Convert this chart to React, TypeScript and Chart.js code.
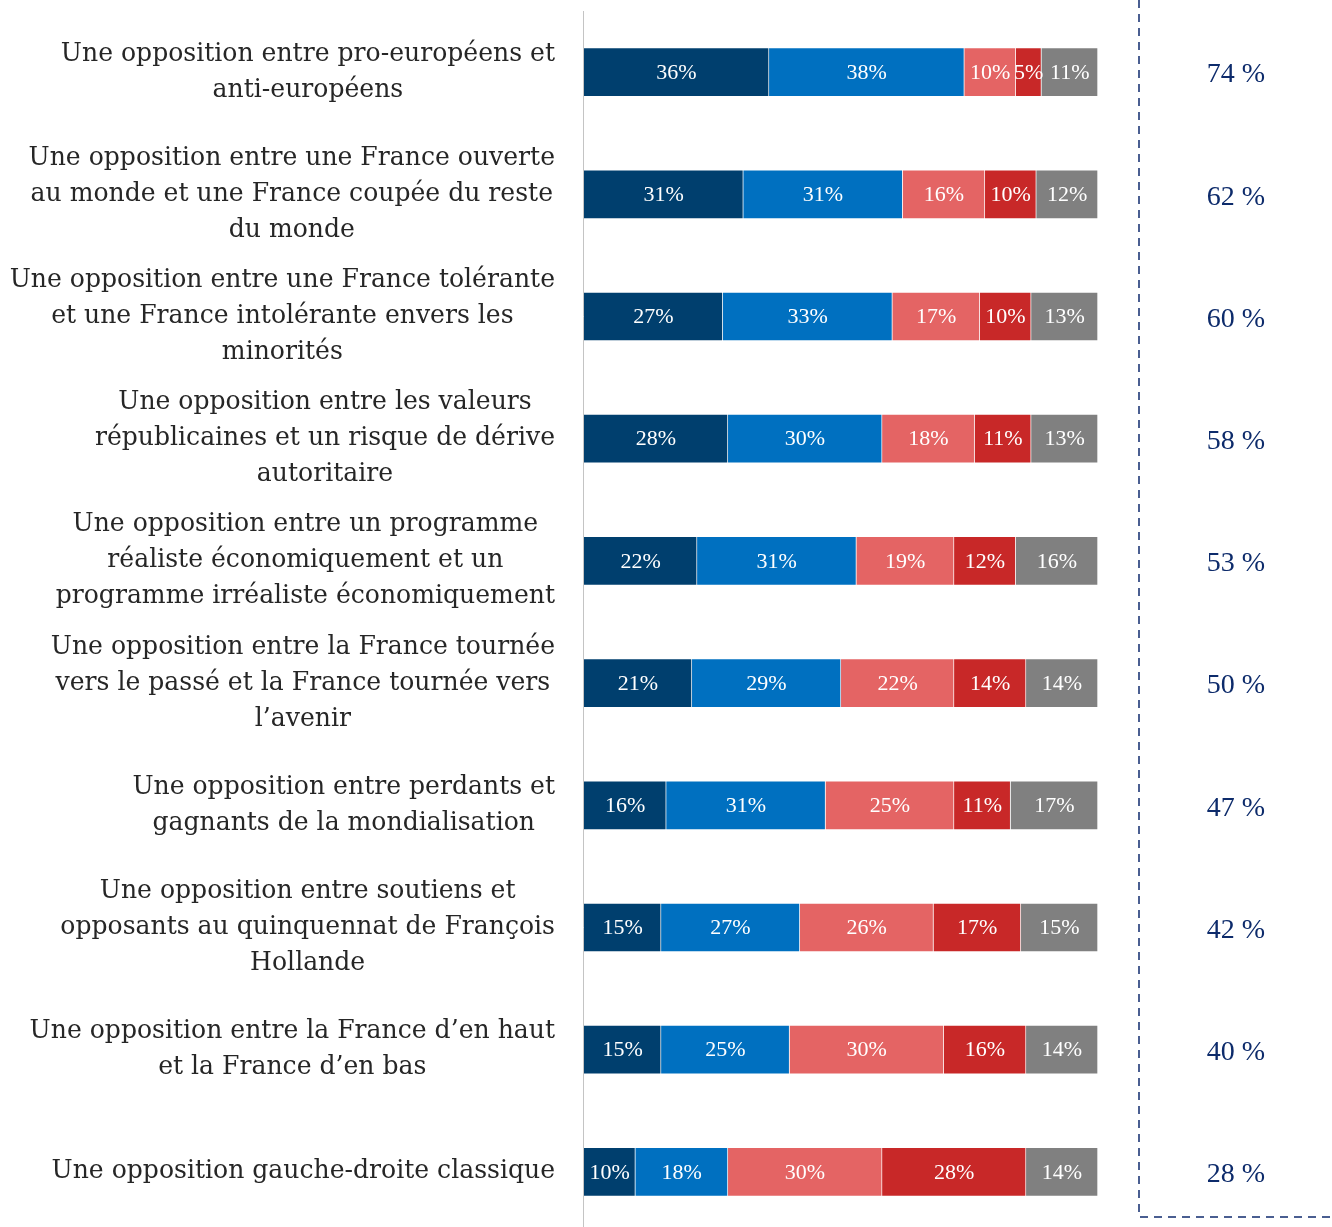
import React, { useEffect, useRef } from "react";
import { Chart, registerables } from "chart.js";

Chart.register(...registerables);

const categories: string[][] = [
  ["Une opposition entre pro-européens et", "anti-européens"],
  ["Une opposition entre une France ouverte", "au monde et une France coupée du reste", "du monde"],
  ["Une opposition entre une France tolérante", "et une France intolérante envers les", "minorités"],
  ["Une opposition entre les valeurs", "républicaines et un risque de dérive", "autoritaire"],
  ["Une opposition entre un programme", "réaliste économiquement et un", "programme irréaliste économiquement"],
  ["Une opposition entre la France tournée", "vers le passé et la France tournée vers", "l’avenir"],
  ["Une opposition entre perdants et", "gagnants de la mondialisation"],
  ["Une opposition entre soutiens et", "opposants au quinquennat de François", "Hollande"],
  ["Une opposition entre la France d’en haut", "et la France d’en bas"],
  ["Une opposition gauche-droite classique"],
];

const seriesNames = ["Tout à fait", "Plutôt", "Plutôt pas", "Pas du tout", "NSP"];
const series1 = [36, 31, 27, 28, 22, 21, 16, 15, 15, 10];
const series2 = [38, 31, 33, 30, 31, 29, 31, 27, 25, 18];
const series3 = [10, 16, 17, 18, 19, 22, 25, 26, 30, 30];
const series4 = [5, 10, 10, 11, 12, 14, 11, 17, 16, 28];
const series5 = [11, 12, 13, 13, 16, 14, 17, 15, 14, 14];
const totals = [74, 62, 60, 58, 53, 50, 47, 42, 40, 28];

const colors = ["#003F6E", "#0070C0", "#E46464", "#C82828", "#808080"];

const SERIF = "'Liberation Serif', 'DejaVu Serif', serif";
const LABEL_FONT = "'DejaVu Serif', serif";

const overlayPlugin = {
  id: "overlay",
  afterDatasetsDraw(chart: any) {
    const ctx = chart.ctx;
    const area = chart.chartArea;
    const yScale = chart.scales.y;
    ctx.save();
    // axis line
    ctx.strokeStyle = "#C4C4C4";
    ctx.lineWidth = 1;
    ctx.beginPath();
    ctx.moveTo(area.left - 0.5, area.top);
    ctx.lineTo(area.left - 0.5, chart.height);
    ctx.stroke();

    // segment labels
    ctx.font = `22px ${SERIF}`;
    ctx.fillStyle = "#FFFFFF";
    ctx.textAlign = "center";
    ctx.textBaseline = "middle";
    chart.data.datasets.forEach((ds: any, di: number) => {
      const meta = chart.getDatasetMeta(di);
      meta.data.forEach((el: any, i: number) => {
        const cx = (el.x + el.base) / 2;
        ctx.fillText(`${ds.data[i]}%`, cx, el.y + 1);
      });
    });

    // category labels (fit widest line to reference width)
    ctx.font = `100px ${LABEL_FONT}`;
    let widest = 0;
    categories.forEach((lines) => lines.forEach((l) => (widest = Math.max(widest, ctx.measureText(l).width))));
    const size = Math.round((100 * 545) / widest * 10) / 10;
    ctx.font = `${size}px ${LABEL_FONT}`;
    ctx.fillStyle = "#262626";
    const right = 555;
    const lh = 36;
    categories.forEach((lines, i) => {
      const y = yScale.getPixelForValue(i);
      const maxW = Math.max(...lines.map((l) => ctx.measureText(l).width));
      const cx = right - maxW / 2;
      const y0 = y - ((lines.length - 1) * lh) / 2;
      lines.forEach((l, k) => ctx.fillText(l, cx, y0 + k * lh));
    });

    // totals
    ctx.font = `28px ${SERIF}`;
    ctx.fillStyle = "#0D2B6B";
    totals.forEach((t, i) => {
      const y = yScale.getPixelForValue(i);
      ctx.fillText(`${t} %`, 1236, y + 3);
    });

    // dashed frame
    ctx.strokeStyle = "#4A5E91";
    ctx.lineWidth = 2;
    ctx.setLineDash([8, 6]);
    ctx.beginPath();
    ctx.moveTo(1139, 0);
    ctx.lineTo(1139, 1217);
    ctx.lineTo(1332, 1217);
    ctx.stroke();
    ctx.restore();
  },
};

export default function App() {
  const ref = useRef<HTMLCanvasElement>(null);
  useEffect(() => {
    if (!ref.current) return;
    const data = [series1, series2, series3, series4, series5];
    const chart = new Chart(ref.current, {
      type: "bar",
      data: {
        labels: categories.map((c) => c.join(" ")),
        datasets: data.map((d, i) => ({
          label: seriesNames[i],
          data: d,
          backgroundColor: colors[i],
          borderColor: "rgba(255,255,255,0.3)",
          borderWidth: 1,
          barThickness: 49,
        })),
      },
      options: {
        indexAxis: "y",
        animation: false,
        responsive: false,
        layout: { padding: { left: 584, right: 234, top: 11, bottom: 0 } },
        plugins: { legend: { display: false }, tooltip: { enabled: false } },
        scales: {
          x: { stacked: true, min: 0, max: 100, display: false },
          y: { stacked: true, display: false },
        },
      },
      plugins: [overlayPlugin],
    });
    return () => chart.destroy();
  }, []);
  return (
    <div style={{ position: "fixed", left: 0, top: 0, width: 1332, height: 1227, overflow: "hidden", background: "#fff" }}>
      <canvas ref={ref} width={1332} height={1233} style={{ display: "block" }} />
    </div>
  );
}
